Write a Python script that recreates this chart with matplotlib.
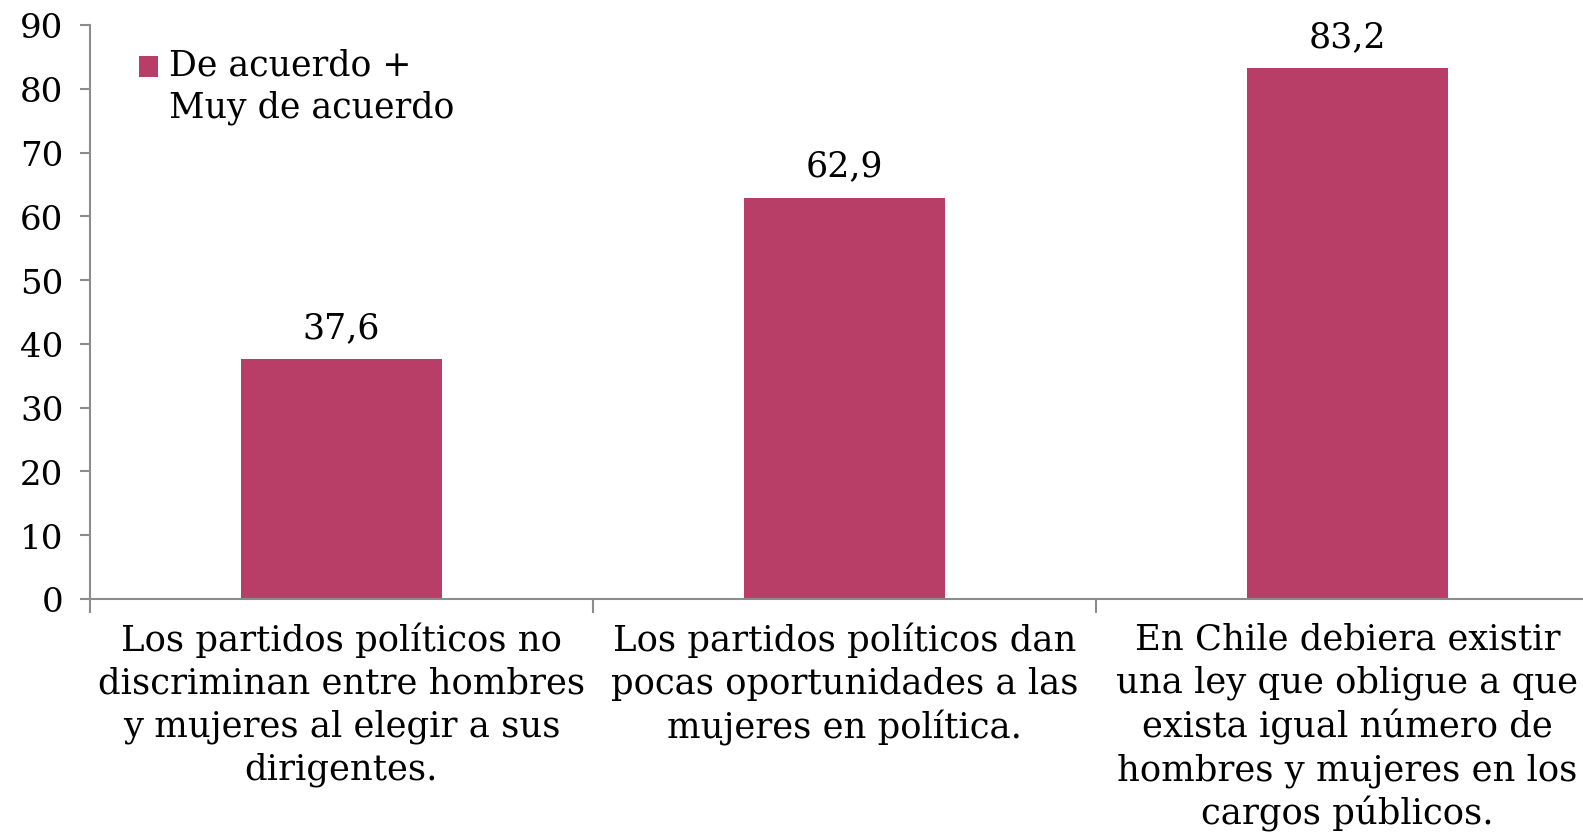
import matplotlib.pyplot as plt
import numpy as np
from matplotlib.patches import Rectangle
from matplotlib.legend_handler import HandlerPatch

categories = [
    'Los partidos políticos no\ndiscriminan entre hombres\ny mujeres al elegir a sus\ndirigentes.',
    'Los partidos políticos dan\npocas oportunidades a las\nmujeres en política.',
    'En Chile debiera existir\nuna ley que obligue a que\nexista igual número de\nhombres y mujeres en los\ncargos públicos.',
]
values = [37.6, 62.9, 83.2]
series_name = 'De acuerdo +\nMuy de acuerdo'

plt.rcParams['font.family'] = ['DejaVu Serif']
bar_color = '#B93E67'
axis_color = '#8C8C8C'

fig = plt.figure(figsize=(15.83, 8.37), dpi=100)
ax = fig.add_axes([90 / 1583, 1 - 600 / 837, 1509 / 1583, (600 - 26) / 837])

x = np.arange(len(values))
bars = ax.bar(x, values, width=0.4, color=bar_color, zorder=2)

# value labels above the bars
for xi, v in zip(x, values):
    ax.annotate(f'{v:.1f}'.replace('.', ','), (xi, v), xytext=(0, 11),
                textcoords='offset points', ha='center', va='bottom', fontsize=25)

ax.set_xlim(-0.5, len(values) - 0.5)
ax.set_ylim(0, 90)
ax.set_yticks(range(0, 91, 10))
ax.tick_params(axis='y', labelsize=24.5, length=7, width=1.5, color=axis_color, pad=12)

# category labels between the boundary ticks
ax.set_xticks(np.arange(len(values) + 1) - 0.5)
ax.set_xticklabels([])
ax.tick_params(axis='x', length=10, width=1.5, color=axis_color)
for xi, lab in zip(x, categories):
    ax.text(xi, -3.6, lab, ha='center', va='top', fontsize=25.5, linespacing=1.31)

for s in ['top', 'right']:
    ax.spines[s].set_visible(False)
for s in ['left', 'bottom']:
    ax.spines[s].set_color(axis_color)
    ax.spines[s].set_linewidth(1.5)


# square marker next to the first line of the two-line label
def square_first_line(legend, orig_handle, xdescent, ydescent, width, height, fontsize):
    return Rectangle((-xdescent, -ydescent + 15), width, height)


leg = ax.legend([bars.patches[0]], [series_name], loc='upper left',
                bbox_to_anchor=(0.0235, 0.985), frameon=False,
                fontsize=25, handlelength=0.55, handleheight=0.55, handletextpad=0.3,
                borderaxespad=0,
                handler_map={Rectangle: HandlerPatch(patch_func=square_first_line)})
for t in leg.get_texts():
    t.set_linespacing(1.3)

fig.savefig('out.png', dpi=100)
